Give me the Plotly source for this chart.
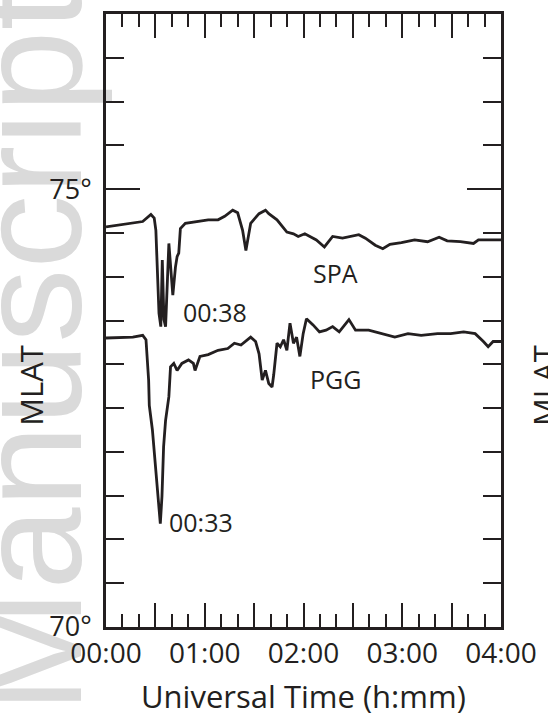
import plotly.graph_objects as go

# Magnetic latitude (deg) of the boundary at two stations vs. UT in minutes
spa_minutes = [0, 14.3, 22.3, 27.3, 29.3, 30.3, 31.2, 32.2, 33.3, 34.2, 35.2, 36.2, 38.2,
               39.8, 40.6, 42.2, 43.2, 44.2, 45.2, 48.2, 54.1, 62.1, 68.1, 72.1, 77.0,
               80.0, 83.0, 85.0, 87.9, 93.0, 96.9, 98.9, 103.9, 109.9, 113.9, 116.8,
               120.8, 123.8, 127.8, 132.7, 137.7, 143.7, 149.7, 153.6, 157.6, 163.6,
               168.2, 172.5, 179.5, 187.5, 195.4, 202.4, 207.3, 215.3, 223.3, 226.3, 240]
spa_mlat = [74.57, 74.61, 74.63, 74.71, 74.67, 74.53, 74.16, 73.58, 73.43, 74.19, 73.51,
            73.43, 74.38, 73.96, 73.79, 74.11, 74.23, 74.27, 74.55, 74.61, 74.63, 74.65,
            74.65, 74.69, 74.76, 74.73, 74.53, 74.30, 74.61, 74.72, 74.76, 74.72, 74.65,
            74.51, 74.49, 74.46, 74.49, 74.46, 74.42, 74.34, 74.46, 74.44, 74.46, 74.48,
            74.44, 74.36, 74.32, 74.37, 74.39, 74.42, 74.40, 74.45, 74.41, 74.40, 74.38,
            74.42, 74.42]

pgg_minutes = [0, 16.3, 22.3, 24.3, 25.9, 26.3, 28.2, 30.3, 33.0, 34.0, 35.0, 36.2, 38.2,
               39.2, 41.2, 43.2, 46.1, 50.1, 53.1, 54.1, 57.1, 62.1, 68.1, 74.0, 78.0,
               82.0, 87.9, 90.9, 93.0, 94.9, 96.9, 98.9, 100.9, 101.9, 103.9, 105.9,
               107.9, 109.9, 111.8, 113.9, 115.8, 117.8, 119.8, 121.8, 125.8, 129.7,
               133.7, 137.7, 141.7, 147.6, 151.6, 159.6, 167.6, 175.5, 183.5, 191.5,
               201.4, 209.4, 217.3, 224.3, 229.3, 232.2, 235.2, 240]
pgg_mlat = [73.30, 73.31, 73.33, 73.28, 72.82, 72.53, 72.25, 71.76, 71.18, 71.49, 72.06,
            72.36, 72.63, 72.97, 73.01, 72.93, 73.01, 73.05, 73.01, 72.93, 73.09, 73.11,
            73.16, 73.18, 73.24, 73.22, 73.31, 73.26, 73.12, 72.82, 72.93, 72.78, 72.74,
            72.88, 73.24, 73.20, 73.28, 73.16, 73.47, 73.24, 73.31, 73.09, 73.35, 73.52,
            73.45, 73.37, 73.39, 73.43, 73.37, 73.51, 73.39, 73.39, 73.35, 73.31, 73.35,
            73.33, 73.35, 73.35, 73.37, 73.35, 73.26, 73.20, 73.26, 73.26]

hour_ticks = [0, 30, 60, 90, 120, 150, 180, 210, 240]
hour_labels = ["00:00", "", "01:00", "", "02:00", "", "03:00", "", "04:00"]
lat_ticks = [70, 75]
lat_labels = ["70°", "75°"]

INK = "#231f20"
FONT = "Open Sans"

fig = go.Figure()
fig.add_trace(go.Scatter(x=spa_minutes, y=spa_mlat, mode="lines",
                         line=dict(color=INK, width=2.8), name="SPA"))
fig.add_trace(go.Scatter(x=pgg_minutes, y=pgg_mlat, mode="lines",
                         line=dict(color=INK, width=2.8), name="PGG"))

notes = [("SPA", 139.7, 74.04), ("PGG", 139.7, 72.83),
         ("00:38", 66.3, 73.60), ("00:33", 57.9, 71.20)]
for txt, xv, yv in notes:
    fig.add_annotation(x=xv, y=yv, text=txt, showarrow=False,
                       font=dict(family=FONT, size=25, color=INK),
                       xanchor="center", yanchor="middle")

# axis titles
fig.add_annotation(xref="paper", yref="paper", x=-0.189, y=0.394, text="MLAT",
                   textangle=-90, showarrow=False, xanchor="center", yanchor="middle",
                   font=dict(family=FONT, size=31, color=INK))
fig.add_annotation(xref="paper", yref="paper", x=1.052, y=0.394, text="MLAT",
                   textangle=-90, showarrow=False, xanchor="left", yanchor="middle",
                   font=dict(family=FONT, size=31, color=INK))
fig.add_annotation(xref="paper", yref="paper", x=0.5, y=-0.113, text="Universal Time (h:mm)",
                   showarrow=False, xanchor="center", yanchor="middle",
                   font=dict(family=FONT, size=31, color=INK))

# faint vertical watermark behind the panel
fig.add_shape(type="rect", xref="paper", yref="paper",
              x0=-0.43, x1=-0.03, y0=0.0, y1=0.9, line=dict(width=0),
              fillcolor="rgba(0,0,0,0)", layer="below",
              label=dict(text="Manuscript", textangle=-90, textposition="middle center",
                         font=dict(family="Liberation Sans", size=148, color="#dadada")))

fig.update_xaxes(range=[0, 240], tickmode="array", tickvals=hour_ticks, ticktext=hour_labels,
                 ticks="inside", ticklen=24, tickwidth=2.4, tickcolor=INK,
                 minor=dict(tickmode="linear", tick0=0, dtick=10, ticks="inside",
                            ticklen=13, tickwidth=2.4, tickcolor=INK),
                 showline=True, linewidth=2.6, linecolor=INK, mirror="ticks",
                 showgrid=False, zeroline=False,
                 tickfont=dict(family=FONT, size=28, color=INK))
fig.update_yaxes(range=[70, 77], tickmode="array", tickvals=lat_ticks, ticktext=lat_labels,
                 ticks="inside", ticklen=34, tickwidth=2.4, tickcolor=INK,
                 minor=dict(tickmode="linear", tick0=70, dtick=0.5, ticks="inside",
                            ticklen=18, tickwidth=2.4, tickcolor=INK),
                 showline=True, linewidth=2.6, linecolor=INK, mirror="ticks",
                 showgrid=False, zeroline=False, ticklabelstandoff=6,
                 tickfont=dict(family=FONT, size=27, color=INK))

fig.update_layout(width=548, height=722, margin=dict(l=106, r=40, t=11, b=95),
                  paper_bgcolor="white", plot_bgcolor="rgba(0,0,0,0)",
                  showlegend=False)

fig.write_html("out.html")
